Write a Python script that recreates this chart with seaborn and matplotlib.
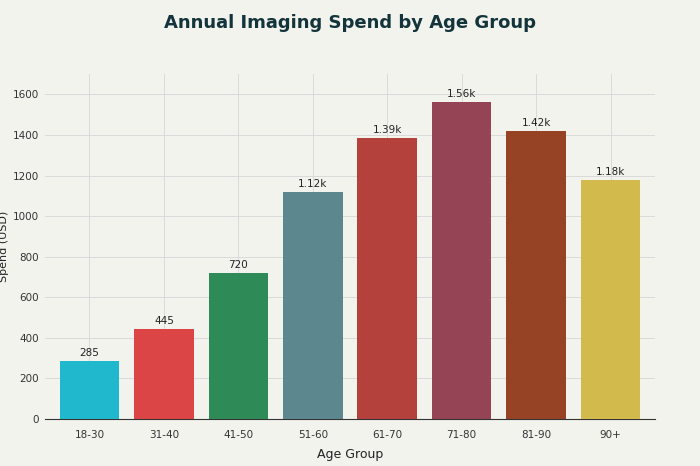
import matplotlib
matplotlib.use("Agg")
import matplotlib.pyplot as plt
import seaborn as sns
import pandas as pd

age_groups = ["18-30", "31-40", "41-50", "51-60", "61-70", "71-80", "81-90", "90+"]
spend = [285, 445, 720, 1120, 1385, 1560, 1420, 1180]
labels = ["285", "445", "720", "1.12k", "1.39k", "1.56k", "1.42k", "1.18k"]
colors = ["#1FB8CD", "#DB4545", "#2E8B57", "#5D878F", "#B4413C", "#944454", "#964325", "#D2BA4C"]

bg = "#F3F3EE"
plt.rcParams["font.family"] = "DejaVu Sans"
fig = plt.figure(figsize=(7, 4.66), dpi=100, facecolor=bg)
ax = fig.add_axes([0.064, 0.101, 0.872, 0.74])
ax.set_facecolor(bg)
df = pd.DataFrame({"Age Group": age_groups, "Spend": spend})
sns.barplot(data=df, x="Age Group", y="Spend", hue="Age Group", palette=colors,
            legend=False, ax=ax, width=0.8, saturation=1, edgecolor="none", zorder=3)
for i, (v, t) in enumerate(zip(spend, labels)):
    ax.text(i, v + 15, t, ha="center", va="bottom", fontsize=7.5, color="#222222")
ax.set_ylim(0, 1700)
ax.set_xlim(-0.6, 7.6)
ax.set_yticks(range(0, 1601, 200))
ax.grid(True, color="#DADADA", linewidth=0.7, zorder=0)
for s in ["top", "right", "left"]:
    ax.spines[s].set_visible(False)
ax.spines["bottom"].set_color("#333333")
ax.tick_params(length=0, labelsize=7.5, colors="#333333")
ax.tick_params(axis="x", pad=8)
ax.tick_params(axis="y", pad=4)
ax.set_xlabel("Age Group", fontsize=9, color="#222222", labelpad=6)
ax.set_ylabel("Spend (USD)", fontsize=8, color="#222222", labelpad=3)
fig.text(0.5, 0.94, "Annual Imaging Spend by Age Group", ha="center", fontsize=13,
         color="#13343B", fontweight="semibold")
fig.savefig("out.png", dpi=100, facecolor=bg)
